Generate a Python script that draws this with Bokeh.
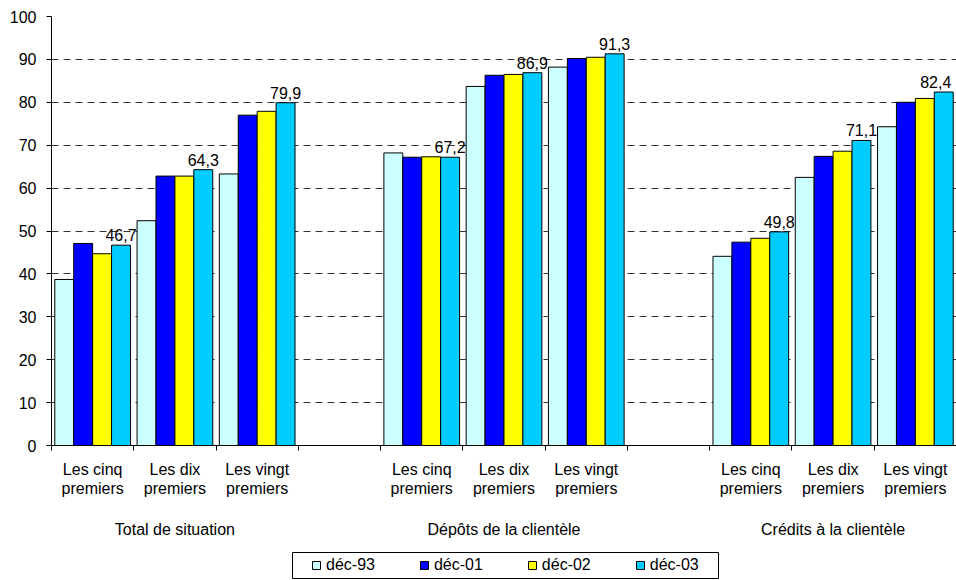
from bokeh.plotting import figure
from bokeh.layouts import column
from bokeh.models import Range1d, FixedTicker, Legend, LegendItem
from bokeh.embed import file_html
from bokeh.resources import INLINE
from bokeh.core.properties import value

groups = ["Total de situation", "Dépôts de la clientèle", "Crédits à la clientèle"]
subcats = [("Les cinq", "premiers"), ("Les dix", "premiers"), ("Les vingt", "premiers")]
series = ["déc-93", "déc-01", "déc-02", "déc-03"]

dec93 = [38.7, 52.4, 63.3, 68.2, 83.7, 88.2, 44.1, 62.5, 74.3]
dec01 = [47.1, 62.8, 77.0, 67.2, 86.3, 90.2, 47.4, 67.4, 80.0]
dec02 = [44.7, 62.8, 77.9, 67.3, 86.5, 90.5, 48.3, 68.6, 80.9]
dec03 = [46.7, 64.3, 79.9, 67.2, 86.9, 91.3, 49.8, 71.1, 82.4]
yticks = list(range(0, 101, 10))

colors = ["#CCFFFF", "#0000FF", "#FFFF00", "#00CCFF"]
FONT = "Liberation Sans"
FS = "16px"

values = [dec93, dec01, dec02, dec03]
nslots = 11
slots = [g * 4 + s + 0.5 for g in range(len(groups)) for s in range(len(subcats))]
bw = 0.23

W = 956
LEFT = 51
TOP = 16
FRAME_H = 429
H1 = 455
H2 = 125
slot_px = (W - LEFT) / nslots

xr = Range1d(0, nslots)

p = figure(width=W, height=H1, x_range=xr, y_range=Range1d(0, 100),
           output_backend="svg", toolbar_location=None,
           min_border_left=LEFT, min_border_right=0, min_border_top=TOP,
           min_border_bottom=H1 - TOP - FRAME_H)
p.outline_line_color = None
p.background_fill_color = "white"
p.border_fill_color = "white"

for i, (name, vals, col) in enumerate(zip(series, values, colors)):
    xs = [s + (i - 1.5) * bw for s in slots]
    p.vbar(x=xs, top=vals, bottom=0, width=bw, fill_color=col,
           line_color="black", line_width=1)
    if i == 3:
        offs = [0] * (len(xs) - 1) + [-8]
        p.text(x=xs, y=vals, text=[f"{v:.1f}".replace(".", ",") for v in vals],
               text_align="center", text_baseline="bottom", y_offset=-4, x_offset=offs,
               text_font=value(FONT), text_font_size=FS, text_color="black")

# y axis
p.yaxis.ticker = FixedTicker(ticks=yticks)
p.yaxis.major_label_text_font = FONT
p.yaxis.major_label_text_font_size = FS
p.yaxis.major_label_text_color = "black"
p.yaxis.axis_line_color = "black"
p.yaxis.major_tick_out = 5
p.yaxis.major_tick_in = 0
p.yaxis.minor_tick_line_color = None
p.yaxis.major_label_standoff = 10

# x axis: ticks at slot boundaries, labels drawn in the panel below
p.xaxis.ticker = FixedTicker(ticks=list(range(nslots + 1)))
p.xaxis.major_label_overrides = {i: "" for i in range(nslots + 1)}
p.xaxis.major_label_text_font_size = "1px"
p.xaxis.axis_line_color = "black"
p.xaxis.major_tick_out = 5
p.xaxis.major_tick_in = 0
p.xaxis.minor_tick_line_color = None

p.xgrid.visible = False
p.ygrid.ticker = FixedTicker(ticks=yticks[1:])
p.ygrid.grid_line_color = "#333333"
p.ygrid.grid_line_dash = "7 5"
p.ygrid.grid_line_width = 1

# lower panel: category labels, group labels, legend (y = pixels from its top)
q = figure(width=W, height=H2, x_range=xr, y_range=Range1d(H2, 0),
           output_backend="svg", toolbar_location=None,
           min_border_left=LEFT, min_border_right=0, min_border_top=0,
           min_border_bottom=0)
q.axis.visible = False
q.grid.visible = False
q.outline_line_color = None
q.background_fill_color = "white"
q.border_fill_color = "white"

cat_x = []
cat_y = []
cat_t = []
for k, sx in enumerate(slots):
    l1, l2 = subcats[k % len(subcats)]
    cat_x += [sx, sx]
    cat_y += [14, 33]
    cat_t += [l1, l2]
q.text(x=cat_x, y=cat_y, text=cat_t, text_align="center", text_baseline="middle",
       text_font=value(FONT), text_font_size=FS, text_color="black")
q.text(x=[g * 4 + 1.5 for g in range(len(groups))], y=[74] * len(groups), text=groups,
       text_align="center", text_baseline="middle",
       text_font=value(FONT), text_font_size=FS, text_color="black")

# legend frame
box_l = (292 - LEFT) / slot_px
box_r = (718 - LEFT) / slot_px
q.quad(left=[box_l], right=[box_r], top=[97], bottom=[123],
       fill_color="white", line_color="black", line_width=1)

# legend swatch renderers (zero-size, only their styling is used by the legend)
leg_r = [q.vbar(x=[box_l], top=[110], bottom=[110], width=0, fill_color=c,
                line_color="black", line_width=1, line_alpha=1)
         for c in colors]
legend = Legend(items=[LegendItem(label=n, renderers=[r]) for n, r in zip(series, leg_r)],
                orientation="horizontal", location=(311 - LEFT, 6))
legend.margin = 0
legend.padding = 0
legend.spacing = 44
legend.glyph_width = 10
legend.glyph_height = 10
legend.label_standoff = 5
legend.label_height = 18
legend.label_text_font = FONT
legend.label_text_font_size = FS
legend.label_text_color = "black"
legend.border_line_color = None
legend.background_fill_alpha = 0
q.add_layout(legend, "center")

layout = column(p, q, spacing=0)
open("out.html", "w").write(file_html(layout, INLINE))
